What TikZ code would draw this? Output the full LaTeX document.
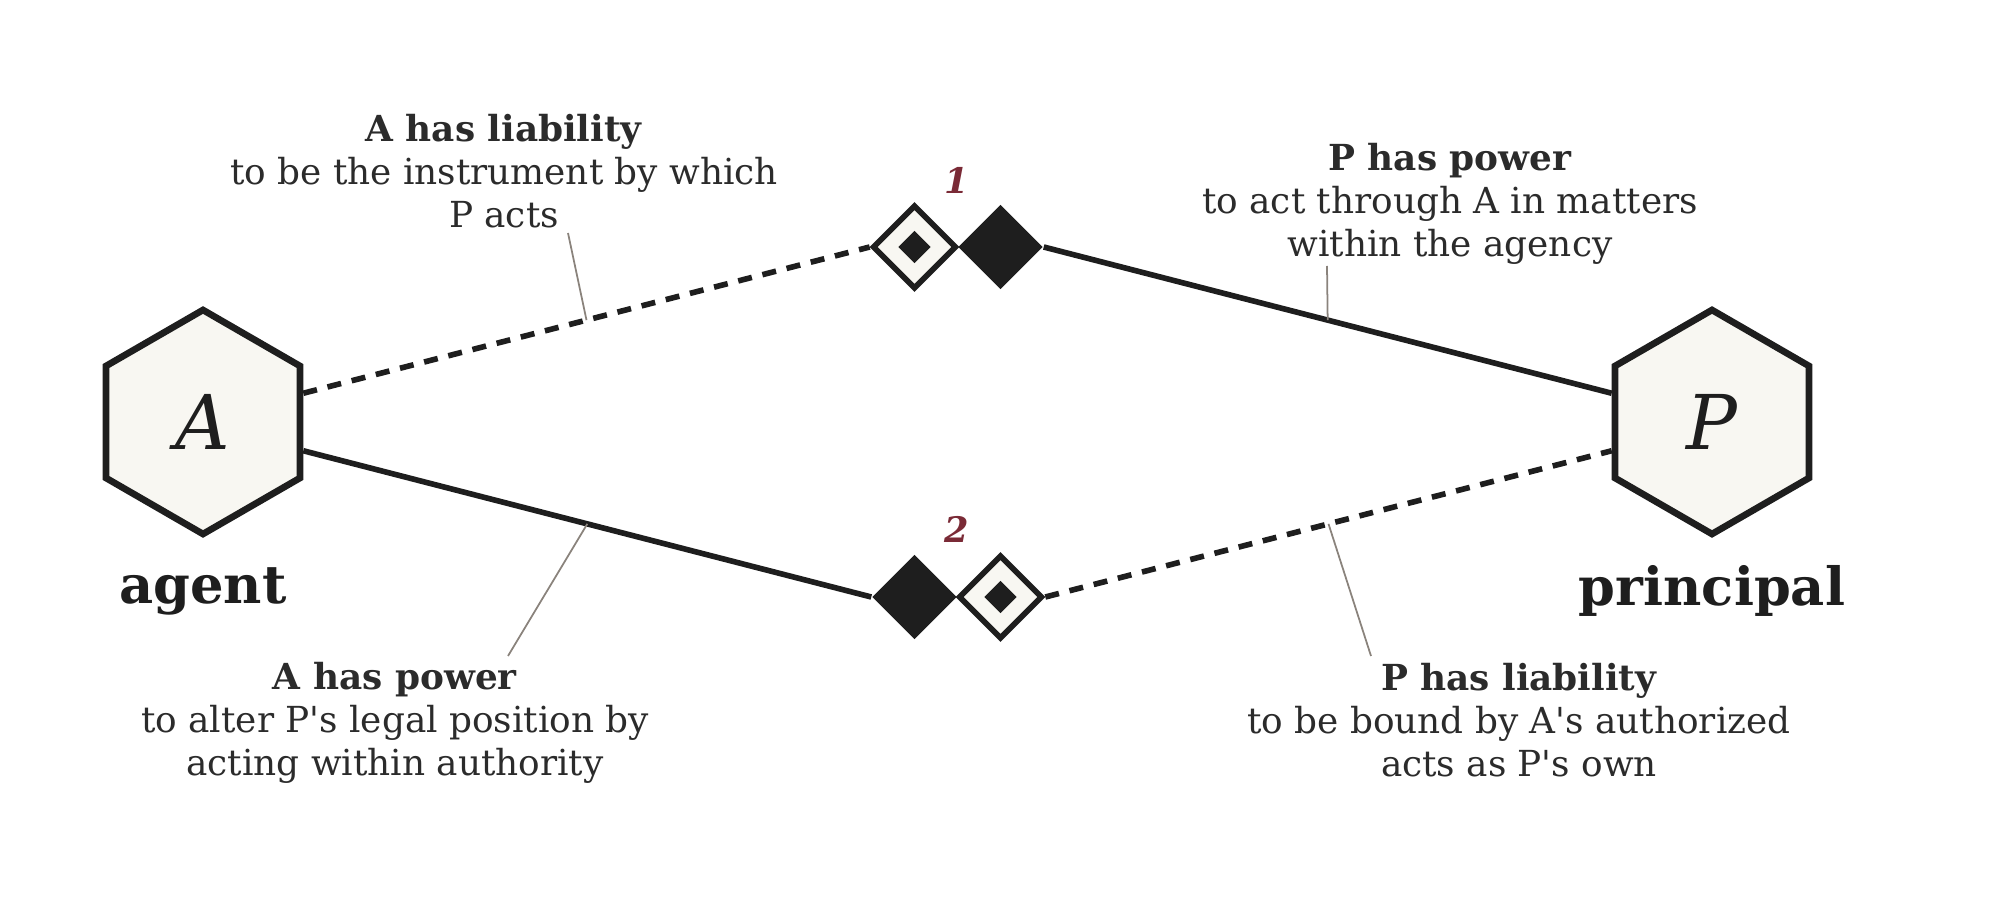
\documentclass[tikz,border=0pt]{standalone}
\usepackage{fontspec}
\setmainfont{DejaVu Serif}
\usetikzlibrary{shapes.geometric}

\definecolor{ink}{HTML}{1E1E1E}
\definecolor{paper}{HTML}{F8F7F2}
\definecolor{txt}{HTML}{2B2B2B}
\definecolor{leadgray}{HTML}{8A837C}
\definecolor{numred}{HTML}{7A2A36}

\tikzset{
    party/.style={regular polygon, regular polygon sides=6, shape border rotate=30,
        draw=ink, fill=paper, line width=1.9pt, minimum size=2.24cm, inner sep=0pt,
        text=ink, font=\fontsize{21.5}{24}\selectfont\itshape},
    opendia/.style={diamond, aspect=1, draw=ink, fill=paper, line width=1.6pt,
        minimum size=0.84cm, inner sep=0pt},
    soliddia/.style={diamond, aspect=1, fill=ink, minimum size=0.85cm, inner sep=0pt},
    core/.style={diamond, aspect=1, fill=ink, minimum size=0.33cm, inner sep=0pt},
    rel/.style={draw=ink, line width=1.6pt},
    relx/.style={rel, dash pattern=on 4pt off 3.1pt},
    leader/.style={draw=leadgray, line width=0.5pt},
    note/.style={align=center, text=txt, font=\fontsize{10.2}{12.3}\selectfont},
    role/.style={text=ink, font=\fontsize{15}{18}\selectfont\bfseries},
    num/.style={text=numred, font=\fontsize{10}{12}\selectfont\bfseries\itshape}
}

\begin{document}
\begin{tikzpicture}
    \useasboundingbox (0,0) rectangle (20,9.06);

    \coordinate (t1) at (5.68,6.73);
    \coordinate (t2) at (13.27,6.40);
    \coordinate (t3) at (5.08,2.50);
    \coordinate (t4) at (13.71,2.50);

    \node[party] (A) at (2.03,4.84) {A};
    \node[party] (P) at (17.12,4.84) {P};

    \node[opendia] (o1) at (9.145,6.59) {};
    \node[core] at (o1) {};
    \node[soliddia] (f1) at (10.005,6.59) {};
    \node[soliddia] (f2) at (9.145,3.09) {};
    \node[opendia] (o2) at (10.005,3.09) {};
    \node[core] at (o2) {};

    \draw[relx] (A.16) -- coordinate[midway] (m1) (o1.west);
    \draw[rel] (f1.east) -- coordinate[midway] (m2) (P.164);
    \draw[rel] (A.-16) -- coordinate[midway] (m3) (f2.west);
    \draw[relx] (o2.east) -- coordinate[midway] (m4) (P.196);

    \draw[leader] (t1) -- (m1);
    \draw[leader] (t2) -- (m2);
    \draw[leader] (t3) -- (m3);
    \draw[leader] (t4) -- (m4);

    \node[num] (k1) at (9.57,7.26) {1};
    \node[num] (k2) at (9.57,3.77) {2};

    \node[role] (ra) at (2.03,3.15) {agent};
    \node[role] (rp) at (17.12,3.15) {principal};

    \node[note] (n1) at (5.04,7.35) {\textbf{A has liability}\\to be the instrument by which\\P acts};
    \node[note] (n2) at (14.50,7.02) {\textbf{P has power}\\to act through A in matters\\within the agency};
    \node[note] (n3) at (3.95,1.83) {\textbf{A has power}\\to alter P\textquotesingle s legal position by\\acting within authority};
    \node[note] (n4) at (15.19,1.86) {\textbf{P has liability}\\to be bound by A\textquotesingle s authorized\\acts as P\textquotesingle s own};
\end{tikzpicture}
\end{document}
